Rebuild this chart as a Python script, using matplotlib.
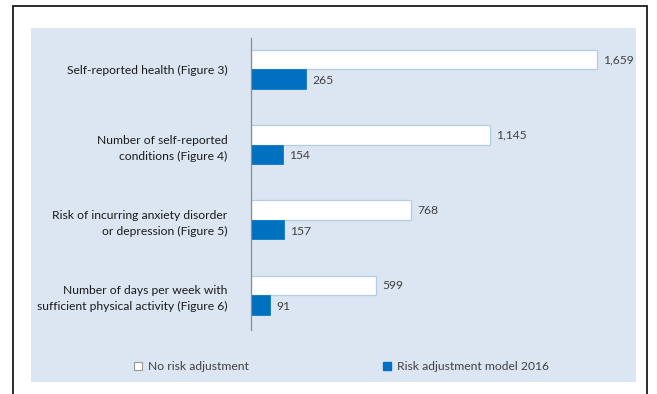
import matplotlib
matplotlib.use("Agg")
import matplotlib.pyplot as plt
from matplotlib.patches import Rectangle
from matplotlib.lines import Line2D

categories = [
    "Self-reported health (Figure 3)",
    "Number of self-reported\nconditions (Figure 4)",
    "Risk of incurring anxiety disorder\nor depression (Figure 5)",
    "Number of days per week with\nsufficient physical activity (Figure 6)",
]
no_adjust = [1659, 1145, 768, 599]
model_2016 = [265, 154, 157, 91]
series_names = ["No risk adjustment", "Risk adjustment model 2016"]

W, H = 657, 394
plt.rcParams['font.family'] = ['Lato', 'DejaVu Sans']
FS = 8.7
fig = plt.figure(figsize=(W / 100, H / 100), dpi=100)
fig.patch.set_facecolor('white')

def fx(px):
    return px / W

def fy(py):
    return 1 - py / H

# outer border
fig.patches.append(Rectangle((fx(12.5), fy(420)), fx(647) - fx(12.5), fy(5.5) - fy(420),
                             transform=fig.transFigure, fill=False, edgecolor='#1a1a1a',
                             linewidth=1.3, zorder=-2))
# panel
fig.patches.append(Rectangle((fx(31), fy(382)), fx(636) - fx(31), fy(28) - fy(382),
                             transform=fig.transFigure, facecolor='#DCE6F2', edgecolor='none',
                             zorder=-2))

ax_left, ax_right = 251, 636
ax_top, ax_bottom = 38, 330
ax = fig.add_axes([fx(ax_left), fy(ax_bottom), fx(ax_right) - fx(ax_left), fy(ax_top) - fy(ax_bottom)])
ax.set_facecolor('none')
ax.set_zorder(2)

px_per_unit = (597 - 251) / 1659.0
ax.set_xlim(0, (ax_right - ax_left) / px_per_unit)
spacing = 75.2
ax.set_ylim(3 + 35 / spacing, -31.5 / spacing)

bh = 19.5 / spacing
ypos = list(range(len(categories)))
ax.barh([y - bh / 2 for y in ypos], no_adjust, height=bh, color='white',
        edgecolor='#B4CCE4', linewidth=0.9)
ax.barh([y + bh / 2 for y in ypos], model_2016, height=bh, color='#0070C0',
        edgecolor='#0070C0', linewidth=0.5)

off = 6 / px_per_unit
txtc = '#404040'
for y, a, b in zip(ypos, no_adjust, model_2016):
    ax.text(a + off, y - bh / 2, f"{a:,}", va='center', ha='left', fontsize=FS, color=txtc)
    ax.text(b + off, y + bh / 2 + 0.02, f"{b:,}", va='center', ha='left', fontsize=FS, color=txtc)

ax.set_yticks(ypos)
ax.set_yticklabels(categories, fontsize=FS, color='#1a1a1a', multialignment='right',
                   linespacing=1.6)
ax.tick_params(axis='y', length=0, pad=17)
ax.set_xticks([])
for s in ['top', 'right', 'bottom']:
    ax.spines[s].set_visible(False)
ax.spines['left'].set_color('#8c8c8c')
ax.spines['left'].set_linewidth(0.9)

handles = [
    Line2D([], [], linestyle='none', marker='s', markersize=5.5, markerfacecolor='white',
           markeredgecolor='#9a9a9a', markeredgewidth=0.8),
    Line2D([], [], linestyle='none', marker='s', markersize=5.5, markerfacecolor='#0070C0',
           markeredgecolor='#0070C0'),
]
fig.legend(handles, series_names, loc='center left', bbox_to_anchor=(fx(133), fy(367)),
           ncol=2, frameon=False, fontsize=FS, handlelength=0.9, handletextpad=0.34,
           columnspacing=11.0, labelcolor='#404040', borderaxespad=0, borderpad=0)

fig.savefig('out.png', dpi=100)
